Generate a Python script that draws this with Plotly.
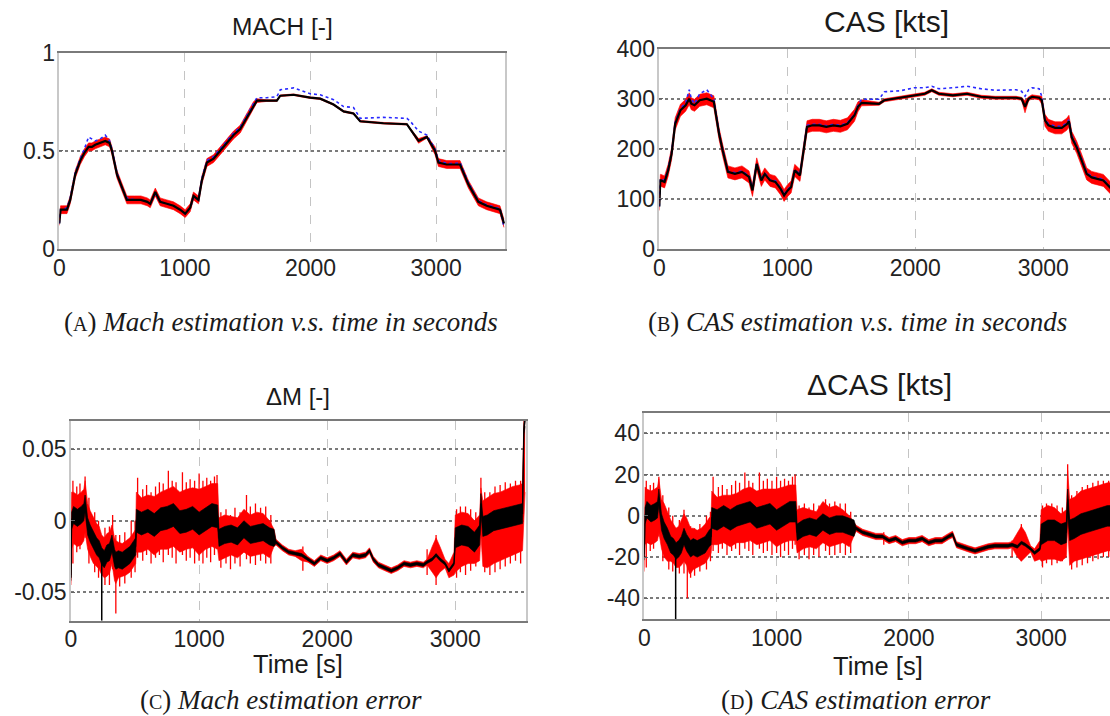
import plotly.graph_objects as go

# full page figure; the body margin is removed after plotting
W, H = 1110, 716
BODY = 0

# ---------------- Panel A : Mach ----------------
mach_t = [0, 10, 27, 61, 87, 127, 167, 200, 233, 260, 286, 326, 366, 400, 419, 459, 499, 538, 600, 650,
          700, 724, 764, 803, 856, 909, 962, 1002, 1042, 1068, 1108, 1135, 1175, 1228, 1281, 1334, 1387, 1440, 1493, 1546,
          1573, 1650, 1732, 1759, 1865, 1997, 2077, 2183, 2263, 2342, 2395, 2581, 2767, 2794, 2860, 2926, 2991, 3018, 3084, 3150,
          3190, 3256, 3336, 3402, 3508, 3540]
mach_est = [0.13, 0.20, 0.20, 0.20, 0.25, 0.38, 0.45, 0.49, 0.52, 0.52, 0.53, 0.54, 0.55, 0.54, 0.50, 0.38, 0.31, 0.25, 0.25, 0.25,
            0.24, 0.23, 0.29, 0.24, 0.23, 0.22, 0.20, 0.18, 0.21, 0.27, 0.25, 0.35, 0.44, 0.46, 0.50, 0.54, 0.58, 0.61, 0.67, 0.73,
            0.755, 0.755, 0.755, 0.78, 0.785, 0.77, 0.765, 0.735, 0.70, 0.69, 0.65, 0.64, 0.635, 0.61, 0.55, 0.57, 0.50, 0.44, 0.43, 0.43,
            0.43, 0.33, 0.24, 0.22, 0.20, 0.13]
mach_ref = [0.13, 0.20, 0.20, 0.21, 0.26, 0.39, 0.46, 0.51, 0.57, 0.56, 0.55, 0.56, 0.58, 0.55, 0.51, 0.39, 0.31, 0.26, 0.25, 0.25,
            0.24, 0.23, 0.28, 0.24, 0.23, 0.22, 0.20, 0.18, 0.21, 0.26, 0.25, 0.36, 0.45, 0.47, 0.51, 0.55, 0.59, 0.62, 0.68, 0.74,
            0.77, 0.77, 0.775, 0.81, 0.82, 0.79, 0.785, 0.76, 0.725, 0.72, 0.665, 0.67, 0.665, 0.65, 0.60, 0.58, 0.51, 0.45, 0.435, 0.435,
            0.44, 0.34, 0.245, 0.225, 0.205, 0.11]
mach_spread = [0.01, 0.02, 0.02, 0.02, 0.02, 0.02, 0.02, 0.02, 0.02, 0.02, 0.02, 0.02, 0.02, 0.02, 0.02, 0.02, 0.02, 0.02, 0.02, 0.02,
               0.02, 0.02, 0.02, 0.02, 0.02, 0.02, 0.02, 0.02, 0.02, 0.02, 0.02, 0.02, 0.02, 0.02, 0.02, 0.02, 0.02, 0.02, 0.02, 0.02,
               0.01, 0.004, 0.004, 0.004, 0.004, 0.004, 0.004, 0.004, 0.004, 0.004, 0.004, 0.004, 0.004, 0.004, 0.012, 0.006, 0.02, 0.02, 0.02, 0.02,
               0.02, 0.02, 0.02, 0.02, 0.02, 0.02]

# ---------------- Panel B : CAS ----------------
cas_t = [0, 8, 14, 41, 69, 96, 124, 165, 206, 234, 250, 275, 316, 371, 426, 467, 495, 536, 591, 646,
         701, 728, 761, 797, 824, 865, 907, 948, 975, 1003, 1030, 1058, 1099, 1126, 1154, 1195, 1250, 1305, 1360, 1415,
         1470, 1525, 1552, 1580, 1717, 1758, 1882, 1992, 2074, 2129, 2184, 2294, 2404, 2514, 2624, 2788, 2830, 2857, 2885, 2912,
         2967, 2988, 3013, 3040, 3092, 3144, 3183, 3200, 3222, 3261, 3300, 3339, 3378, 3430, 3469, 3521, 3545]
cas_est = [85, 137, 137, 134, 157, 190, 250, 277, 287, 300, 290, 287, 297, 300, 294, 230, 197, 154, 150, 154,
           144, 117, 170, 137, 150, 137, 134, 120, 107, 117, 124, 157, 147, 197, 244, 247, 247, 244, 247, 245,
           250, 267, 284, 292, 290, 297, 302, 307, 310, 317, 310, 307, 310, 304, 302, 302, 300, 284, 300, 304,
           302, 297, 257, 247, 242, 242, 249, 255, 223, 203, 177, 150, 143, 140, 137, 123, 115]
cas_ref = [85, 140, 140, 137, 160, 193, 253, 280, 292, 318, 300, 290, 310, 318, 300, 232, 199, 156, 152, 156,
           146, 119, 172, 139, 152, 139, 136, 122, 109, 119, 126, 159, 149, 199, 247, 249, 249, 246, 249, 247,
           252, 269, 287, 299, 299, 314, 316, 322, 322, 325, 320, 322, 325, 320, 317, 318, 315, 305, 318, 322,
           320, 305, 259, 250, 245, 245, 252, 258, 226, 206, 180, 153, 145, 142, 139, 125, 110]
cas_spread = [8, 12, 12, 12, 12, 12, 12, 12, 12, 12, 12, 12, 12, 12, 12, 12, 12, 12, 12, 12,
              12, 12, 12, 12, 12, 12, 12, 12, 12, 12, 12, 12, 12, 12, 12, 12, 12, 12, 12, 12,
              12, 12, 10, 6, 3, 3, 3, 3, 3, 3, 3, 3, 3, 3, 3, 3, 3, 12, 4, 4,
              4, 8, 12, 12, 12, 12, 12, 12, 12, 12, 12, 12, 12, 12, 12, 12, 12]

# ---------------- Panels C / D : estimation errors ----------------
err_t = [0, 5, 20, 50, 80, 100, 110, 130, 150, 175, 200, 220, 240, 260, 280, 300, 320, 340, 350, 370, 400, 430, 460, 490, 505,
         510, 550, 600, 650, 700, 750, 800, 850, 900, 950, 1000, 1050, 1100, 1145,
         1155, 1200, 1250, 1300, 1350, 1400, 1450, 1500, 1550, 1585,
         1600, 1650, 1700, 1750, 1800, 1850, 1900, 1950, 2000, 2050, 2100, 2150, 2200, 2250, 2300, 2330, 2360, 2400, 2450, 2500,
         2550, 2600, 2650, 2700, 2750, 2780, 2820, 2850, 2880, 2920, 2950, 2990,
         3000, 3050, 3100, 3150, 3190, 3200, 3215, 3250, 3300, 3350, 3400, 3450, 3500, 3525, 3535, 3545]

dm_mean = [-0.04, 0.0, 0.004, 0.002, 0.004, 0.006, 0.012, -0.004, -0.009, -0.014, -0.018, -0.020, -0.025, -0.027, -0.023, -0.022, -0.016, -0.026, -0.028, -0.027, -0.028, -0.026, -0.024, -0.020, -0.018,
           0.0, -0.002, 0.0, -0.003, 0.001, 0.002, 0.004, -0.001, 0.0, 0.002, -0.002, 0.001, 0.004, 0.003,
           -0.012, -0.010, -0.009, -0.011, -0.006, -0.010, -0.009, -0.008, -0.011, -0.012,
           -0.015, -0.019, -0.022, -0.023, -0.024, -0.027, -0.030, -0.026, -0.028, -0.026, -0.023, -0.029, -0.024, -0.025, -0.024, -0.021, -0.027, -0.031, -0.033, -0.035,
           -0.033, -0.030, -0.031, -0.030, -0.031, -0.029, -0.027, -0.024, -0.027, -0.030, -0.035, -0.030,
           -0.012, -0.010, -0.011, -0.015, -0.010, 0.012, -0.004, -0.003, 0.0, 0.001, 0.002, 0.003, 0.004, 0.005, 0.064, 0.07]
dm_hi = [-0.01, 0.02, 0.02, 0.018, 0.02, 0.022, 0.028, 0.012, 0.007, 0.002, -0.002, -0.004, -0.01, -0.012, -0.009, -0.008, -0.003, -0.012, -0.014, -0.015, -0.016, -0.014, -0.012, -0.008, -0.006,
         0.02, 0.016, 0.018, 0.017, 0.02, 0.022, 0.024, 0.02, 0.022, 0.023, 0.022, 0.024, 0.026, 0.026,
         0.002, 0.004, 0.003, 0.002, 0.008, 0.004, 0.006, 0.005, 0.0, -0.006,
         -0.013, -0.017, -0.020, -0.021, -0.020, -0.025, -0.028, -0.024, -0.026, -0.024, -0.021, -0.027, -0.022, -0.023, -0.022, -0.019, -0.025, -0.029, -0.031, -0.033,
         -0.031, -0.028, -0.029, -0.028, -0.029, -0.027, -0.018, -0.012, -0.018, -0.027, -0.030, -0.022,
         0.004, 0.006, 0.005, 0.0, 0.004, 0.023, 0.014, 0.016, 0.019, 0.020, 0.022, 0.024, 0.025, 0.026, 0.07, 0.07]
dm_lo = [-0.045, -0.02, -0.016, -0.018, -0.017, -0.014, -0.008, -0.02, -0.025, -0.03, -0.032, -0.034, -0.038, -0.040, -0.039, -0.037, -0.030, -0.042, -0.044, -0.040, -0.039, -0.038, -0.036, -0.032, -0.030,
         -0.022, -0.022, -0.02, -0.024, -0.02, -0.02, -0.018, -0.022, -0.02, -0.019, -0.024, -0.02, -0.018, -0.02,
         -0.028, -0.026, -0.024, -0.026, -0.022, -0.025, -0.024, -0.023, -0.026, -0.018,
         -0.017, -0.021, -0.024, -0.025, -0.028, -0.029, -0.032, -0.028, -0.030, -0.028, -0.025, -0.031, -0.026, -0.027, -0.026, -0.023, -0.029, -0.033, -0.035, -0.037,
         -0.035, -0.032, -0.033, -0.032, -0.033, -0.031, -0.036, -0.040, -0.036, -0.033, -0.040, -0.038,
         -0.036, -0.032, -0.030, -0.030, -0.028, -0.010, -0.032, -0.033, -0.030, -0.028, -0.026, -0.024, -0.022, -0.021, 0.0, 0.02]
dm_core = [0.002] + [0.006] * 24 + [0.008] * 14 + [0.006] * 10 + [0.001] * 32 + [0.007] * 14 + [0.004, 0.004]

dcas_mean = [-20, 0, 3, 1, 2, 3, 9, -3, -7, -10, -14, -15, -17, -16, -14, -10, -13, -15, -16, -15, -16, -15, -14, -11, -10,
             -1, -2, 0, -2, 0, 1, 2, -1, 0, 1, -2, 0, 2, 2,
             -8, -6, -5, -6, -3, -5, -4, -4, -5, -6,
             -6, -8, -9, -10, -10, -12, -11, -13, -12, -12, -11, -13, -12, -12, -10, -9, -14, -15, -16, -17,
             -16, -15, -14.5, -14.5, -14.5, -14, -15, -13, -14, -16, -18, -16,
             -9, -7, -7, -9, -8, 8, -7, -6, -4, -3, -2, -1, 0, 0, 0, 0]
dcas_hi = [-5, 14, 13, 12, 13, 14, 18, 8, 6, 2, -2, -4, -6, -5, -2, 1, -1, -5, -6, -6, -7, -6, -4, -1, 0,
           12, 9, 10, 10, 11, 13, 14, 12, 13, 13, 13, 14, 15, 15,
           3, 4, 3, 2, 7, 4, 5, 3, 0, -3,
           -4.5, -6.5, -7.5, -8.5, -8.5, -10.5, -9.5, -11.5, -10.5, -10.5, -9.5, -11.5, -10.5, -10.5, -8.5, -7.5, -12.5, -13.5, -14.5, -15.5,
           -14.5, -13.5, -13, -13, -13, -12.5, -8, -5, -8, -14.5, -16, -12,
           3, 5, 4, 1, 3, 22, 8, 9, 12, 13, 14, 15, 16, 16, 16, 16]
dcas_lo = [-27, -14, -13, -14, -13, -12, -8, -16, -20, -22, -22, -23, -25, -25, -24, -22, -24, -28, -28, -26, -25, -24, -23, -20, -18,
           -14, -14, -13, -15, -13, -13, -12, -14, -13, -12, -15, -13, -12, -12,
           -18, -16, -15, -16, -13, -15, -14, -13, -15, -10,
           -7.5, -9.5, -10.5, -11.5, -11.5, -13.5, -12.5, -14.5, -13.5, -13.5, -12.5, -14.5, -13.5, -13.5, -11.5, -10.5, -15.5, -16.5, -17.5, -18.5,
           -17.5, -16.5, -16, -16, -16, -15.5, -20, -22, -20, -17.5, -22, -21,
           -22, -21, -21, -22, -20, -5, -24, -22, -21, -20, -19, -18, -17, -17, -17, -17]
dcas_core = [1.5] + [4] * 24 + [5] * 14 + [4] * 10 + [0.7] * 32 + [5] * 16

# individual noise spikes (time, low end, high end)
dm_spike_t = [15, 45, 70, 110, 140, 185, 215, 265, 300, 325, 350, 380, 420, 470, 500,
              520, 560, 590, 625, 660, 690, 720, 760, 790, 820, 870, 900, 930, 965, 1000, 1030, 1060, 1090, 1120, 1140,
              1170, 1210, 1245, 1280, 1320, 1370, 1400, 1440, 1480, 1520, 1560,
              1810, 2780, 2850,
              3010, 3040, 3080, 3120, 3160, 3200, 3230, 3270, 3310, 3350, 3390, 3430, 3470, 3510]
dm_spike_lo = [-0.03, -0.022, -0.02, -0.012, -0.03, -0.036, -0.04, -0.045, -0.045, -0.034, -0.065, -0.046, -0.044, -0.04, -0.036,
               -0.026, -0.028, -0.024, -0.03, -0.026, -0.024, -0.029, -0.024, -0.026, -0.03, -0.024, -0.028, -0.026, -0.03, -0.028, -0.03, -0.026, -0.029, -0.024, -0.02,
               -0.033, -0.03, -0.034, -0.03, -0.032, -0.027, -0.03, -0.031, -0.028, -0.03, -0.03,
               -0.035, -0.038, -0.045,
               -0.04, -0.036, -0.038, -0.035, -0.032, -0.01, -0.036, -0.038, -0.036, -0.034, -0.032, -0.03, -0.028, -0.03]
dm_spike_hi = [0.028, 0.024, 0.026, 0.031, 0.016, 0.006, 0.0, -0.005, -0.004, 0.004, -0.01, -0.01, -0.008, 0.0, 0.0,
               0.03, 0.022, 0.025, 0.02, 0.024, 0.027, 0.026, 0.035, 0.028, 0.027, 0.034, 0.027, 0.029, 0.028, 0.033, 0.028, 0.03, 0.028, 0.031, 0.032,
               0.006, 0.008, 0.004, 0.009, 0.006, 0.018, 0.01, 0.012, 0.009, 0.01, 0.004,
               -0.018, -0.02, -0.01,
               0.008, 0.01, 0.01, 0.008, 0.006, 0.03, 0.02, 0.02, 0.024, 0.025, 0.027, 0.026, 0.028, 0.028]
dm_blk_spike_t = [240]
dm_blk_spike_lo = [-0.07]
dm_blk_spike_hi = [-0.025]

dcas_spike_t = dm_spike_t
dcas_spike_lo = [-25, -17, -16, -10, -22, -26, -27, -28, -28, -40, -30, -29, -27, -26, -22,
                 -17, -18, -16, -19, -17, -16, -19, -16, -17, -19, -16, -18, -17, -19, -18, -20, -17, -19, -16, -14,
                 -21, -19, -21, -19, -20, -17, -19, -19, -18, -19, -18,
                 -14, -20, -22,
                 -25, -23, -24, -23, -22, 0, -26, -25, -24, -23, -22, -21, -20, -20]
dcas_spike_hi = [17, 15, 16, 19, 10, 4, 0, -2, 3, -8, -5, -6, -4, 0, 2,
                 19, 14, 15, 13, 15, 17, 16, 21, 17, 16, 21, 17, 18, 17, 19, 17, 18, 17, 19, 20,
                 5, 6, 4, 6, 5, 8, 6, 7, 6, 6, 2,
                 -8, -12, -4,
                 5, 6, 6, 5, 4, 25, 10, 12, 14, 15, 16, 17, 17, 17]
dcas_blk_spike_t = [237]
dcas_blk_spike_lo = [-50]
dcas_blk_spike_hi = [-17]

RED = "rgb(255,0,0)"
BLUE = "rgb(40,40,255)"


def band(fig, t, lo, hi, color, xa, ya):
    fig.add_trace(go.Scatter(x=t, y=hi, mode="lines", line=dict(width=0.6, color=color),
                             xaxis=xa, yaxis=ya, hoverinfo="skip", showlegend=False))
    fig.add_trace(go.Scatter(x=t, y=lo, mode="lines", line=dict(width=0.6, color=color), fill="tonexty",
                             fillcolor=color, xaxis=xa, yaxis=ya, hoverinfo="skip", showlegend=False))


def spikes(fig, t, lo, hi, color, width, xa, ya):
    xs, ys = [], []
    for a, b, c in zip(t, lo, hi):
        xs += [a, a, None]
        ys += [b, c, None]
    fig.add_trace(go.Scatter(x=xs, y=ys, mode="lines", line=dict(width=width, color=color),
                             xaxis=xa, yaxis=ya, hoverinfo="skip", showlegend=False))


fig = go.Figure()

# Panel A
band(fig, mach_t, [m - s for m, s in zip(mach_est, mach_spread)],
     [m + s for m, s in zip(mach_est, mach_spread)], RED, "x", "y")
fig.add_trace(go.Scatter(x=mach_t, y=mach_ref, mode="lines", line=dict(color=BLUE, width=1.6, dash="dot"),
                         xaxis="x", yaxis="y", showlegend=False))
fig.add_trace(go.Scatter(x=mach_t, y=mach_est, mode="lines", line=dict(color="black", width=2.2),
                         xaxis="x", yaxis="y", showlegend=False))

# Panel B
band(fig, cas_t, [m - s for m, s in zip(cas_est, cas_spread)],
     [m + s for m, s in zip(cas_est, cas_spread)], RED, "x2", "y2")
fig.add_trace(go.Scatter(x=cas_t, y=cas_ref, mode="lines", line=dict(color=BLUE, width=1.6, dash="dot"),
                         xaxis="x2", yaxis="y2", showlegend=False))
fig.add_trace(go.Scatter(x=cas_t, y=cas_est, mode="lines", line=dict(color="black", width=2.2),
                         xaxis="x2", yaxis="y2", showlegend=False))

# Panel C
band(fig, err_t, dm_lo, dm_hi, RED, "x3", "y3")
spikes(fig, dm_spike_t, dm_spike_lo, dm_spike_hi, RED, 1.3, "x3", "y3")
band(fig, err_t, [m - c for m, c in zip(dm_mean, dm_core)], [m + c for m, c in zip(dm_mean, dm_core)],
     "black", "x3", "y3")
fig.add_trace(go.Scatter(x=err_t, y=dm_mean, mode="lines", line=dict(color="black", width=1.2),
                         xaxis="x3", yaxis="y3", showlegend=False))
spikes(fig, dm_blk_spike_t, dm_blk_spike_lo, dm_blk_spike_hi, "black", 1.5, "x3", "y3")

# Panel D
band(fig, err_t, dcas_lo, dcas_hi, RED, "x4", "y4")
spikes(fig, dcas_spike_t, dcas_spike_lo, dcas_spike_hi, RED, 1.3, "x4", "y4")
band(fig, err_t, [m - c for m, c in zip(dcas_mean, dcas_core)], [m + c for m, c in zip(dcas_mean, dcas_core)],
     "black", "x4", "y4")
fig.add_trace(go.Scatter(x=err_t, y=dcas_mean, mode="lines", line=dict(color="black", width=1.2),
                         xaxis="x4", yaxis="y4", showlegend=False))
spikes(fig, dcas_blk_spike_t, dcas_blk_spike_lo, dcas_blk_spike_hi, "black", 1.5, "x4", "y4")


def px(x):
    # page pixel -> paper fraction
    return (x - BODY) / W


def py(y):
    return 1 - (y - BODY) / H


TICKFONT = dict(family="Liberation Sans, Arial, sans-serif", size=23, color="#222")


def xax(dom, rng, anchor):
    return dict(domain=dom, range=rng, anchor=anchor, tickvals=[0, 1000, 2000, 3000],
                ticktext=["0", "1000", "2000", "3000"], tickfont=TICKFONT, showgrid=True,
                gridcolor="#c4c4c4", griddash="dash", gridwidth=1, zeroline=False, showline=True,
                linecolor="#7a7a7a", linewidth=2, mirror=True, ticks="", ticklabelstandoff=-3,
                automargin=False, fixedrange=True)


def yax(dom, rng, anchor, tv, tt, mirror):
    return dict(domain=dom, range=rng, anchor=anchor, tickvals=tv, ticktext=tt, tickfont=TICKFONT,
                showgrid=True, gridcolor="#7a7a7a", griddash="dot", gridwidth=1.5, zeroline=False,
                showline=True, linecolor="#c8c8c8", linewidth=1.5, mirror=mirror, ticks="inside",
                ticklen=4, tickcolor="#666", ticklabelstandoff=-2, automargin=False, fixedrange=True)


fig.update_layout(
    width=W, height=H, autosize=False, margin=dict(l=0, r=0, t=0, b=0, pad=0),
    paper_bgcolor="white", plot_bgcolor="white", showlegend=False,
    xaxis=xax([px(59.3), px(505)], [0, 3548], "y"),
    yaxis=yax([py(249), py(52.5)], [0, 1], "x", [0, 0.5, 1], ["0", "0.5", "1"], True),
    xaxis2=xax([px(659.3), 1.0], [0, 3521], "y2"),
    yaxis2=yax([py(249), py(48.7)], [0, 400], "x2", [0, 100, 200, 300, 400],
               ["0", "100", "200", "300", "400"], False),
    xaxis3=xax([px(71), px(526)], [0, 3552], "y3"),
    yaxis3=yax([py(620.7), py(420.7)], [-0.07, 0.07], "x3", [-0.05, 0, 0.05], ["-0.05", "0", "0.05"], True),
    xaxis4=xax([px(644.3), 1.0], [0, 3520], "y4"),
    yaxis4=yax([py(619), py(412.7)], [-50, 50], "x4", [-40, -20, 0, 20, 40],
               ["-40", "-20", "0", "20", "40"], False),
)

SANS = "Liberation Sans, Arial, sans-serif"
SERIF = "Liberation Serif, Times New Roman, serif"
SC = "<span style='font-size:20px'>{}</span>"
texts = [
    ("MACH [-]", 282, 26.5, SANS, 24.5),
    ("CAS [kts]", 886, 21, SANS, 30),
    ("\u0394M [-]", 298, 396, SANS, 24),
    ("\u0394CAS [kts]", 879, 384, SANS, 30),
    ("Time [s]", 298, 664, SANS, 25.5),
    ("Time [s]", 878, 666, SANS, 25.5),
    ("(" + SC.format("A") + ") <i>Mach estimation v.s. time in seconds</i>", 281, 322, SERIF, 27),
    ("(" + SC.format("B") + ") <i>CAS estimation v.s. time in seconds</i>", 857, 322, SERIF, 27),
    ("(" + SC.format("C") + ") <i>Mach estimation error</i>", 281, 700, SERIF, 27),
    ("(" + SC.format("D") + ") <i>CAS estimation error</i>", 856, 700, SERIF, 27),
]
for txt, x, y, fam, size in texts:
    fig.add_annotation(text=txt, x=px(x), y=py(y), xref="paper", yref="paper", showarrow=False,
                       xanchor="center", yanchor="middle", font=dict(family=fam, size=size, color="#1a1a1a"))

fig.write_html("out.html", config={"displayModeBar": False},
               post_script="document.body.style.margin='0';document.body.style.overflow='hidden';")
